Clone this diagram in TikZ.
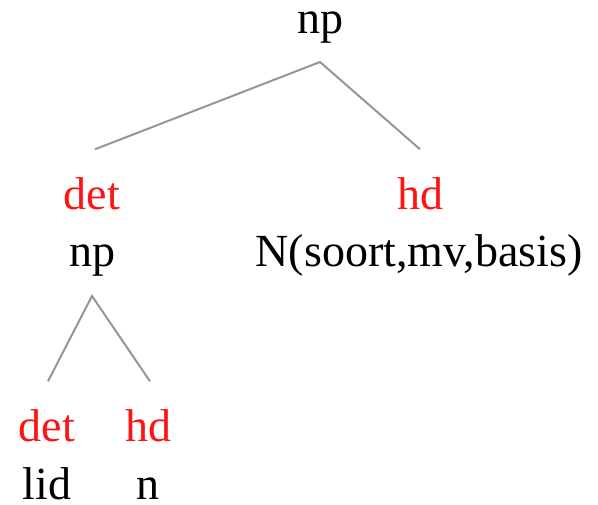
\documentclass[tikz,border=0pt]{standalone}
\usepackage{fontspec}
\setmainfont{Liberation Serif}
\usetikzlibrary{positioning}

\definecolor{fnred}{RGB}{255,20,20}
\definecolor{branchgray}{RGB}{150,150,150}

\tikzset{
	every node/.style={inner sep=0pt,anchor=base,font=\fontsize{46}{55}\selectfont},
	cat/.style={text=black},
	fn/.style={text=fnred},
	branch/.style={draw=branchgray,line width=2pt}
}

\begin{document}
\begin{tikzpicture}[x=1pt,y=-1pt]
	\useasboundingbox (0,0) rectangle (598,505);

	% root
	\node[cat] (np0) at (320,34) {np};

	% daughters of the root
	\node[fn] (det1) at (92,210) {det};
	\node[cat] (np1) at (92,267) {np};
	\node[fn] (hd1) at (420,210) {hd};
	\node[cat] (N1) at (419,267) {N(soort,mv,basis)};

	% daughters of the inner np
	\node[fn] (det2) at (47,442) {det};
	\node[cat] (lid) at (47,500) {lid};
	\node[fn] (hd2) at (148,442) {hd};
	\node[cat] (n2) at (148,500) {n};

	\draw[branch] ([xshift=3pt,yshift=28.6pt]det1.north) -- ([yshift=-18pt]np0.south)
		-- ([yshift=28.6pt]hd1.north);
	\draw[branch] ([xshift=1pt,yshift=28.6pt]det2.north) -- ([yshift=-19pt]np1.south)
		-- ([xshift=2pt,yshift=28.6pt]hd2.north);
\end{tikzpicture}
\end{document}
